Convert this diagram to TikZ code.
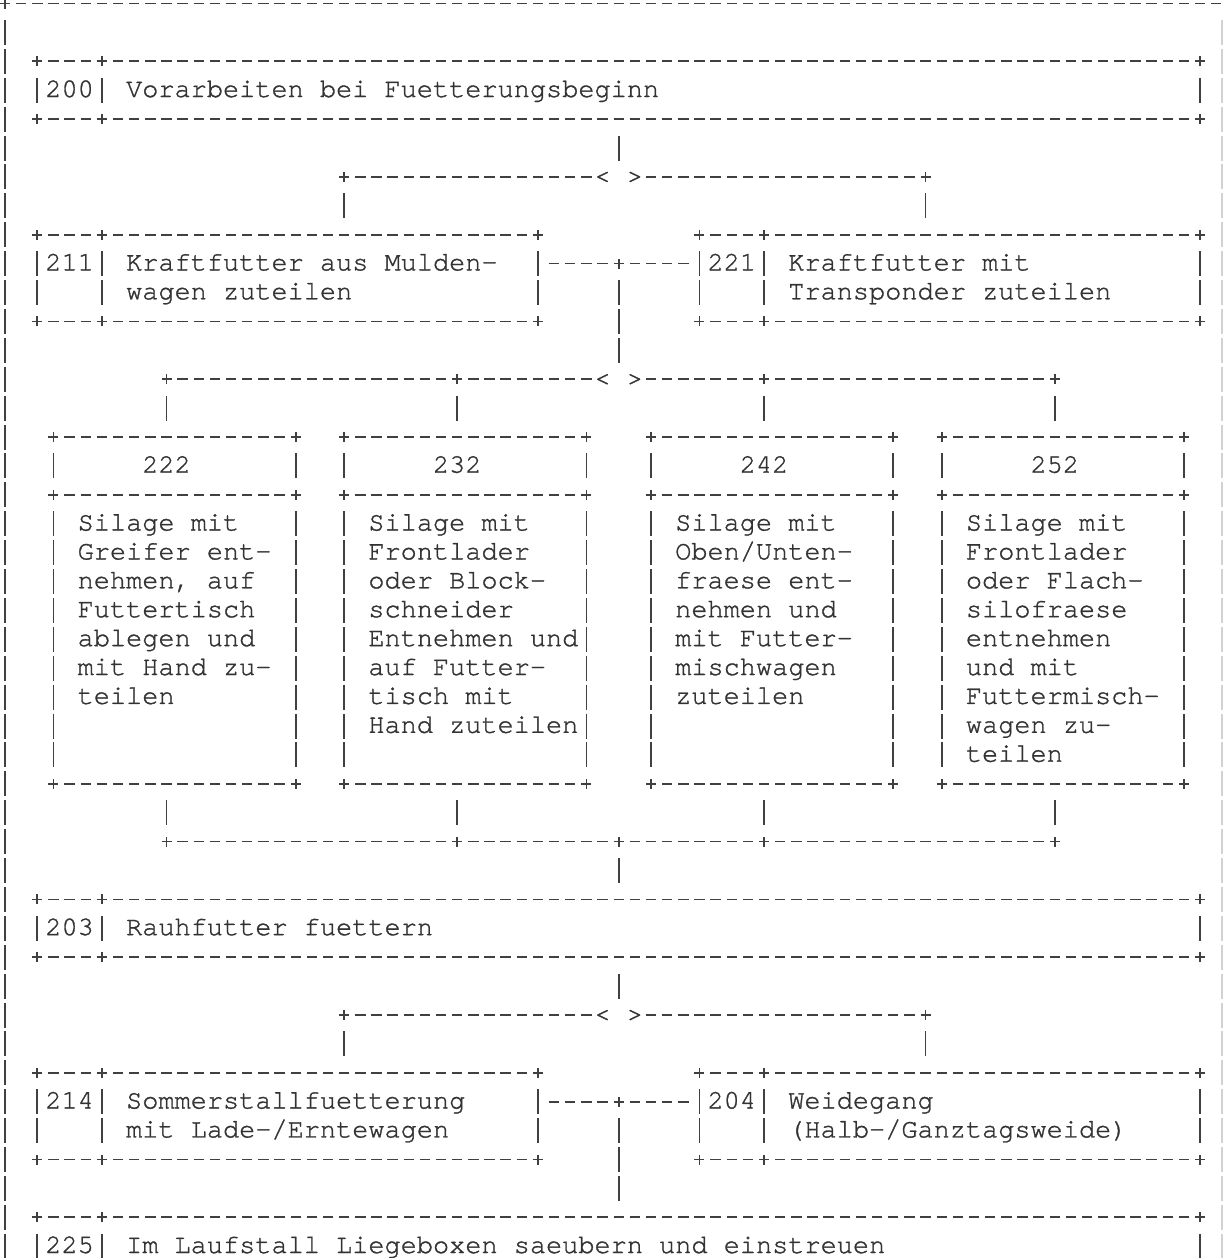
\documentclass[tikz,border=0pt]{standalone}
\usepackage{fontspec}
\newfontfamily\cur[FakeBold=1.2]{texgyrecursor-regular.otf}
\usetikzlibrary{fit,calc}
\definecolor{ink}{gray}{0.2}
\definecolor{lin}{gray}{0.25}
\tikzset{
  hb/.style={draw=lin, line width=0.85pt, dash pattern=on 5.2pt off 2.875pt, dash phase=6.6375pt},
  vb/.style={draw=lin, line width=0.85pt, dash pattern=on 12.5pt off 1.95pt, dash phase=13.475pt},
  hconn/.style={hb, shorten <=4.0375pt, shorten >=4.0375pt},
  vconn/.style={vb, shorten <=7.225pt, shorten >=7.225pt},
  pls/.style={draw=lin, line width=0.85pt},
  frame/.style={inner sep=0pt, outer sep=0pt},
  tx/.style={anchor=base west, inner sep=0pt, outer sep=0pt, text=ink, yshift=-3.4pt,
    font={\cur\fontsize{13.46pt}{14.45pt}\selectfont\lineskiplimit=-30pt}},
}
\newcommand\ml[1]{\vtop{\halign{##\hfil\cr#1\crcr}}}
\newcommand\hrun[3]{\draw[hb] ({#1+0.5},#3) -- ({#2-0.5},#3);}
\newcommand\vrun[3]{\draw[vb] (#1,{#2+0.5}) -- (#1,{#3-0.5});}
\newcommand\pl[1]{\draw[pls] (#1) ++(-2.5pt,0pt) -- ++(5pt,0pt) (#1) ++(0pt,-2.5pt) -- ++(0pt,5pt);}
\newcommand\abox[5]{%
  \node[frame, fit={(#2,#3) (#4,#5)}] (#1) {};
  \hrun{#2}{#4}{#3}\hrun{#2}{#4}{#5}%
  \vrun{#2}{#3}{#5}\vrun{#4}{#3}{#5}%
  \pl{#2,#3}\pl{#4,#3}\pl{#2,#5}\pl{#4,#5}}
\newcommand\ndiv[3]{\vrun{#1}{#2}{#3}\pl{#1,#2}\pl{#1,#3}}
\newcommand\hdrbox[3]{%
  \node[frame, fit={(#2,15) (#3,27)}] (#1) {};
  \hrun{#2}{#3}{15}\hrun{#2}{#3}{17}\hrun{#2}{#3}{27}%
  \vrun{#2}{15}{17}\vrun{#2}{17}{27}\vrun{#3}{15}{17}\vrun{#3}{17}{27}%
  \pl{#2,15}\pl{#3,15}\pl{#2,17}\pl{#3,17}\pl{#2,27}\pl{#3,27}}
\begin{document}
\begin{tikzpicture}
\useasboundingbox (0,0) rectangle (613pt,-629pt);
\clip (0,0) rectangle (613pt,-629pt);
\begin{scope}[shift={(2.5pt,-1.75pt)}, x={(8.075pt,0pt)}, y={(0pt,-14.45pt)}]
% outer frame
\draw[hb] (0.5,0) -- (77,0);
\pl{0,0}
\draw[vb] (0,0.5) -- (0,45.5);
\draw[vb, draw=gray!35] (75.35,0.5) -- (75.35,45.5);

% 200
\abox{b200}{2}{2}{74}{4}\ndiv{6}{2}{4}
\node[tx] (n200) at (2.5,3) {200};
\node[tx] (t200) at (7.5,3) {Vorarbeiten bei Fuetterungsbeginn};

% first branch
\coordinate (j1) at (38,6); \coordinate (j1a) at (37,6); \coordinate (j1b) at (39,6);
\coordinate (j1l) at (21,6); \coordinate (j1r) at (57,6);
\node[tx] (dd1) at (36.5,6) {< >};
\draw[vconn] (b200.south) -- (j1);
\draw[hconn] (j1l) -- (j1a);
\draw[hconn] (j1b) -- (j1r);
\pl{j1l}\pl{j1r}

% 211 / 221
\abox{b211}{2}{8}{33}{11}\ndiv{6}{8}{11}
\node[tx] (n211) at (2.5,9) {211};
\node[tx] (t211) at (7.5,9) {\ml{Kraftfutter aus Mulden-\cr wagen zuteilen}};
\abox{b221}{43}{8}{74}{11}\ndiv{47}{8}{11}
\node[tx] (n221) at (43.5,9) {221};
\node[tx] (t221) at (48.5,9) {\ml{Kraftfutter mit\cr Transponder zuteilen}};
\draw[vconn] (j1l) -- (j1l |- b211.north);
\draw[vconn] (j1r) -- (j1r |- b221.north);
\coordinate (m1) at (38,9);
\draw[hconn] (m1 -| b211.east) -- (m1);
\draw[hconn] (m1) -- (m1 -| b221.west);
\pl{m1}

% second branch
\coordinate (d2) at (38,13); \coordinate (d2a) at (37,13); \coordinate (d2b) at (39,13);
\coordinate (k1) at (10,13); \coordinate (k2) at (28,13);
\coordinate (k3) at (47,13); \coordinate (k4) at (65,13);
\node[tx] (dd2) at (36.5,13) {< >};
\draw[vconn] (m1) -- (d2);
\draw[hconn] (k1) -- (k2);
\draw[hconn] (k2) -- (d2a);
\draw[hconn] (d2b) -- (k3);
\draw[hconn] (k3) -- (k4);
\pl{k1}\pl{k2}\pl{k3}\pl{k4}

% 222 232 242 252
\hdrbox{b222}{3}{18}
\hdrbox{b232}{21}{36}
\hdrbox{b242}{40}{55}
\hdrbox{b252}{58}{73}
\draw[vconn] (k1) -- (k1 |- b222.north);
\draw[vconn] (k2) -- (k2 |- b232.north);
\draw[vconn] (k3) -- (k3 |- b242.north);
\draw[vconn] (k4) -- (k4 |- b252.north);
\node[tx] (n222) at (8.5,16) {222};
\node[tx] (n232) at (26.5,16) {232};
\node[tx] (n242) at (45.5,16) {242};
\node[tx] (n252) at (63.5,16) {252};
\node[tx] (t222) at (4.5,18) {\ml{Silage mit\cr Greifer ent-\cr nehmen, auf\cr Futtertisch\cr ablegen und\cr mit Hand zu-\cr teilen}};
\node[tx] (t232) at (22.5,18) {\ml{Silage mit\cr Frontlader\cr oder Block-\cr schneider\cr Entnehmen und\cr auf Futter-\cr tisch mit\cr Hand zuteilen}};
\node[tx] (t242) at (41.5,18) {\ml{Silage mit\cr Oben/Unten-\cr fraese ent-\cr nehmen und\cr mit Futter-\cr mischwagen\cr zuteilen}};
\node[tx] (t252) at (59.5,18) {\ml{Silage mit\cr Frontlader\cr oder Flach-\cr silofraese\cr entnehmen\cr und mit\cr Futtermisch-\cr wagen zu-\cr teilen}};

% merge
\coordinate (p1) at (10,29); \coordinate (p2) at (28,29); \coordinate (p3) at (38,29);
\coordinate (p4) at (47,29); \coordinate (p5) at (65,29);
\draw[vconn] (p1 |- b222.south) -- (p1);
\draw[vconn] (p2 |- b232.south) -- (p2);
\draw[vconn] (p4 |- b242.south) -- (p4);
\draw[vconn] (p5 |- b252.south) -- (p5);
\draw[hconn] (p1) -- (p2);
\draw[hconn] (p2) -- (p3);
\draw[hconn] (p3) -- (p4);
\draw[hconn] (p4) -- (p5);
\pl{p1}\pl{p2}\pl{p3}\pl{p4}\pl{p5}

% 203
\abox{b203}{2}{31}{74}{33}\ndiv{6}{31}{33}
\node[tx] (n203) at (2.5,32) {203};
\node[tx] (t203) at (7.5,32) {Rauhfutter fuettern};
\draw[vconn] (p3) -- (b203.north);

% third branch
\coordinate (d3) at (38,35); \coordinate (d3a) at (37,35); \coordinate (d3b) at (39,35);
\coordinate (j3l) at (21,35); \coordinate (j3r) at (57,35);
\node[tx] (dd3) at (36.5,35) {< >};
\draw[vconn] (b203.south) -- (d3);
\draw[hconn] (j3l) -- (d3a);
\draw[hconn] (d3b) -- (j3r);
\pl{j3l}\pl{j3r}

% 214 / 204
\abox{b214}{2}{37}{33}{40}\ndiv{6}{37}{40}
\node[tx] (n214) at (2.5,38) {214};
\node[tx] (t214) at (7.5,38) {\ml{Sommerstallfuetterung\cr mit Lade-/Erntewagen}};
\abox{b204}{43}{37}{74}{40}\ndiv{47}{37}{40}
\node[tx] (n204) at (43.5,38) {204};
\node[tx] (t204) at (48.5,38) {\ml{Weidegang\cr (Halb-/Ganztagsweide)}};
\draw[vconn] (j3l) -- (j3l |- b214.north);
\draw[vconn] (j3r) -- (j3r |- b204.north);
\coordinate (m2) at (38,38);
\draw[hconn] (m2 -| b214.east) -- (m2);
\draw[hconn] (m2) -- (m2 -| b204.west);
\pl{m2}

% 225
\abox{b225}{2}{42}{74}{44}\ndiv{6}{42}{44}
\node[tx] (n225) at (2.5,43) {225};
\node[tx] (t225) at (7.5,43) {Im Laufstall Liegeboxen saeubern und einstreuen};
\draw[vconn] (m2) -- (b225.north);
\end{scope}
\end{tikzpicture}
\end{document}
